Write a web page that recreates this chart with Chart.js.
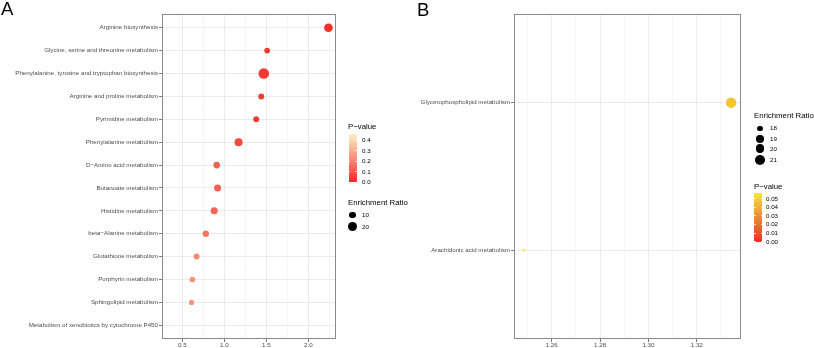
<!DOCTYPE html>
<html>
<head>
<meta charset="utf-8">
<script src="https://cdn.jsdelivr.net/npm/chart.js@4.4.1/dist/chart.umd.min.js"></script>
<style>
body { margin: 0; background: #fff; }
#wrap { position: relative; width: 814px; height: 348px; overflow: hidden; font-family: "Liberation Sans", Arial, sans-serif; }
canvas { position: absolute; top: 0; }
.txt { position: absolute; white-space: nowrap; line-height: 1; transform: translateY(-50%); color: #000; }
.box { position: absolute; }
</style>
</head>
<body>
<div id="wrap">
  <canvas id="chartA" width="400" height="348" style="left:0px"></canvas>
  <canvas id="chartB" width="414" height="348" style="left:400px"></canvas>
</div>
<script>
// panel A
const catsA = [
    "Arginine biosynthesis",
    "Glycine, serine and threonine metabolism",
    "Phenylalanine, tyrosine and tryptophan biosynthesis",
    "Arginine and proline metabolism",
    "Pyrimidine metabolism",
    "Phenylalanine metabolism",
    "D\u2212Amino acid metabolism",
    "Butanoate metabolism",
    "Histidine metabolism",
    "beta\u2212Alanine metabolism",
    "Glutathione metabolism",
    "Porphyrin metabolism",
    "Sphingolipid metabolism",
    "Metabolism of xenobiotics by cytochrome P450"
];
const logPA = [2.24, 1.51, 1.47, 1.44, 1.38, 1.17, 0.91, 0.92, 0.88, 0.78, 0.67, 0.62, 0.61, 0.34];
const pA = [0.0058, 0.031, 0.034, 0.036, 0.042, 0.068, 0.123, 0.120, 0.132, 0.166, 0.214, 0.240, 0.245, 0.457];
const ratioA = [16.8, 8.9, 24, 9.4, 9.4, 14.5, 11.0, 11.8, 11.8, 10.1, 9.4, 8.9, 8.2, 6];
const xTicksA = [0.5, 1.0, 1.5, 2.0];
const xMinorA = [0.75, 1.25, 1.75, 2.25];
const pTicksA = [0.0, 0.1, 0.2, 0.3, 0.4];
const ratioTicksA = [10, 20];

// panel B
const catsB = ["Glycerophospholipid metabolism", "Arachidonic acid metabolism"];
const logPB = [1.3342, 1.2484];
const pB = [0.0463, 0.0565];
const ratioB = [21.3, 17.6];
const xTicksB = [1.26, 1.28, 1.30, 1.32];
const xMinorB = [1.25, 1.27, 1.29, 1.31, 1.33];
const pTicksB = [0.00, 0.01, 0.02, 0.03, 0.04, 0.05];
const ratioTicksB = [18, 19, 20, 21];

const FONT = '"Liberation Sans", Arial, sans-serif';
const lowRed = [238, 44, 40];
const highA = [253, 242, 200];
const highB = [244, 232, 48];

function mix(c1, c2, t) {
    t = Math.max(0, Math.min(1, t));
    const c = c1.map((v, i) => Math.round(v + (c2[i] - v) * t));
    return `rgb(${c[0]},${c[1]},${c[2]})`;
}

// ggplot-like area scaling between smallest and largest ratio
function dotSize(v, arr) {
    const lo = Math.min(...arr), hi = Math.max(...arr);
    const t = Math.max(0, (v - lo) / (hi - lo));
    return 2.5 + 8 * Math.sqrt(t);
}

const frame = {
    id: 'frame',
    afterDraw(chart) {
        const a = chart.chartArea, ctx = chart.ctx;
        ctx.save();
        ctx.strokeStyle = '#8a8a8a';
        ctx.lineWidth = 1;
        ctx.strokeRect(Math.round(a.left) + 0.5, Math.round(a.top) + 0.5,
            Math.round(a.right - a.left) - 1, Math.round(a.bottom - a.top) - 1);
        ctx.restore();
    }
};

function makeDotChart(id, cats, logP, p, ratio, xMin, xMax, majors, minors, decimals, high, yWidth, padRight) {
    const pHigh = Math.max(...p);
    const isMajor = v => majors.some(m => Math.abs(m - v) < 1e-9);
    return new Chart(document.getElementById(id), {
        type: 'bubble',
        data: {
            datasets: [{
                data: cats.map((c, i) => ({ x: logP[i], y: i + 1, r: dotSize(ratio[i], ratio) / 2 })),
                backgroundColor: p.map(v => mix(lowRed, high, v / pHigh)),
                borderWidth: 0,
                hoverRadius: 0
            }]
        },
        options: {
            responsive: false,
            animation: false,
            events: [],
            layout: { padding: { top: 14, right: padRight, bottom: 0, left: 0 } },
            plugins: { legend: { display: false }, tooltip: { enabled: false } },
            scales: {
                x: {
                    type: 'linear',
                    min: xMin,
                    max: xMax,
                    afterBuildTicks: s => { s.ticks = majors.concat(minors).sort((a, b) => a - b).map(v => ({ value: v })); },
                    afterFit: s => { s.height = 9; },
                    border: { display: false },
                    grid: {
                        color: ctx => (ctx.tick && isMajor(ctx.tick.value)) ? '#ebebeb' : '#f3f3f3',
                        lineWidth: ctx => (ctx.tick && isMajor(ctx.tick.value)) ? 1 : 0.8,
                        tickColor: ctx => (ctx.tick && isMajor(ctx.tick.value)) ? '#555' : 'rgba(0,0,0,0)',
                        tickLength: 3,
                        tickWidth: 0.8
                    },
                    ticks: {
                        autoSkip: false,
                        maxRotation: 0,
                        padding: 0,
                        color: '#4d4d4d',
                        font: { family: FONT, size: 6.2 },
                        callback: v => isMajor(v) ? v.toFixed(decimals) : ''
                    }
                },
                y: {
                    type: 'linear',
                    reverse: true,
                    min: 0.4,
                    max: cats.length + 0.6,
                    afterBuildTicks: s => { s.ticks = cats.map((c, i) => ({ value: i + 1 })); },
                    afterFit: s => { s.width = yWidth; },
                    border: { display: false },
                    grid: {
                        color: '#ebebeb',
                        lineWidth: 1,
                        tickColor: '#555',
                        tickLength: 3,
                        tickWidth: 0.8
                    },
                    ticks: {
                        autoSkip: false,
                        padding: 1,
                        color: '#4d4d4d',
                        font: { family: FONT, size: 6.2 },
                        callback: v => cats[Math.round(v) - 1]
                    }
                }
            }
        },
        plugins: [frame]
    });
}

makeDotChart('chartA', catsA, logPA, pA, ratioA, 0.258, 2.33, xTicksA, xMinorA, 1, highA, 162, 64);
makeDotChart('chartB', catsB, logPB, pB, ratioB, 1.2444, 1.3383, xTicksB, xMinorB, 2, highB, 114, 73);

// legends
const wrap = document.getElementById('wrap');

function addText(txt, x, y, size) {
    const d = document.createElement('div');
    d.className = 'txt';
    d.textContent = txt;
    d.style.left = x + 'px';
    d.style.top = y + 'px';
    d.style.fontSize = size + 'px';
    wrap.appendChild(d);
}

function addBox(x, y, w, h, bg, radius) {
    const d = document.createElement('div');
    d.className = 'box';
    d.style.left = x + 'px';
    d.style.top = y + 'px';
    d.style.width = w + 'px';
    d.style.height = h + 'px';
    d.style.background = bg;
    if (radius) d.style.borderRadius = '50%';
    wrap.appendChild(d);
}

function colorbar(x, top, bottom, p, high, ticks, decimals, labelX) {
    const pHigh = Math.max(...p);
    addBox(x, top, 8, bottom - top, `linear-gradient(to top, ${mix(lowRed, high, 0)}, ${mix(lowRed, high, 1)})`);
    ticks.forEach(v => {
        const y = bottom - (v / pHigh) * (bottom - top);
        addBox(x, y - 0.3, 1.5, 0.6, 'rgba(255,255,255,0.8)');
        addBox(x + 6.5, y - 0.3, 1.5, 0.6, 'rgba(255,255,255,0.8)');
        addText(v.toFixed(decimals), labelX, y, 6.2);
    });
}

function sizeKeys(cx, ys, ratio, ticks, labelX) {
    ticks.forEach((v, i) => {
        const d = dotSize(v, ratio);
        addBox(cx - d / 2, ys[i] - d / 2, d, d, '#000', true);
        addText(String(v), labelX, ys[i], 6.2);
    });
}

addText('A', 1, 9, 18.5);
addText('B', 417, 10, 18.5);

addText('P\u2212value', 348, 127, 7.8);
colorbar(348.5, 134.3, 182.3, pA, highA, pTicksA, 1, 362);
addText('Enrichment Ratio', 348, 203, 7.8);
sizeKeys(352.5, [215.3, 226.7], ratioA, ratioTicksA, 362);

addText('Enrichment Ratio', 754, 115.7, 7.8);
sizeKeys(760, [128.3, 139, 148.7, 160], ratioB, ratioTicksB, 770);
addText('P\u2212value', 754, 186.7, 7.8);
colorbar(754, 193, 241.5, pB, highB, pTicksB, 2, 766);
</script>
</body>
</html>
